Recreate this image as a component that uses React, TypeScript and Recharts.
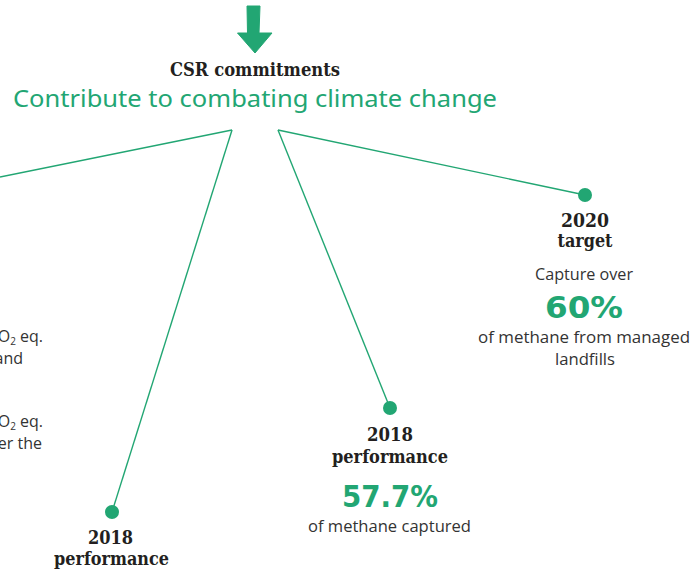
import React from 'react';
import { ComposedChart, XAxis, YAxis, Scatter } from 'recharts';

const W = 692;
const H = 571;
const GREEN = '#22a673';
const DARK = '#231f20';
const BODY = '#333333';

// connector lines: hub point -> node point
const hubX = [232, 232, 278, 278];
const hubY = [130, 130, 130, 130];
const nodeX = [0, 112, 390, 585];
const nodeY = [177, 512, 408, 195];
const nodeHasDot = [false, true, true, true];

// text blocks
const labelText = [
  'CSR commitments',
  'Contribute to combating climate change',
  '2020',
  'target',
  'Capture over',
  '60%',
  'of methane from managed',
  'landfills',
  '2018',
  'performance',
  '57.7%',
  'of methane captured',
  '2018',
  'performance',
];
const labelKind = [
  'heading', 'title',
  'heading', 'heading', 'body', 'big', 'body', 'body',
  'heading', 'heading', 'big', 'body',
  'heading', 'heading',
];
const labelX = [255, 255, 585, 585, 584, 584, 584, 585, 390, 390, 390, 389.5, 110.5, 111.5];
const labelY = [76, 107, 227, 247, 280, 318, 343, 365, 441, 463, 507, 532, 544, 565];
const labelWidth = [170, 484, 48, 55, 98, 78, 212, 60, 46, 116, 96, 163, 45, 115];

// partially visible text at the left edge
const edgeText = ['CO|2| eq.', 'and', 'CO|2| eq.', 'over the'];
const edgeRight = [43, 23, 43, 42];
const edgeY = [342, 364, 427, 449];

const arrowX = [253.5];
const arrowY = [6];

const styles: Record<string, any> = {
  heading: { fontFamily: '"DejaVu Serif", serif', fontWeight: 700, fontSize: 18, fill: DARK },
  title: { fontFamily: '"Noto Sans", sans-serif', fontWeight: 400, fontSize: 24, fill: GREEN },
  body: { fontFamily: '"Open Sans", sans-serif', fontWeight: 400, fontSize: 16, fill: BODY },
  big: { fontFamily: '"DejaVu Sans", sans-serif', fontWeight: 700, fontSize: 31, fill: GREEN },
};

const connectors = hubX.map((hx, i) => [
  { x: hx, y: hubY[i], end: false, dot: false },
  { x: nodeX[i], y: nodeY[i], end: true, dot: nodeHasDot[i] },
]);

const labels = labelText.map((t, i) => ({
  x: labelX[i],
  y: labelY[i],
  text: t,
  kind: labelKind[i],
  width: labelWidth[i],
}));

const edges = edgeText.map((t, i) => ({ x: edgeRight[i], y: edgeY[i], text: t }));
const arrow = arrowX.map((x, i) => ({ x, y: arrowY[i] }));

const DotShape = (props: any) => {
  const { cx, cy, payload } = props;
  if (!payload || !payload.dot) return <g />;
  return <circle cx={cx} cy={cy} r={7} fill={GREEN} />;
};

const LabelShape = (props: any) => {
  const { cx, cy, payload } = props;
  const st = styles[payload.kind];
  return (
    <text
      x={cx}
      y={cy}
      textAnchor="middle"
      textLength={payload.width}
      lengthAdjust="spacingAndGlyphs"
      style={st}
    >
      {payload.text}
    </text>
  );
};

const EdgeShape = (props: any) => {
  const { cx, cy, payload } = props;
  const parts = String(payload.text).split('|');
  return (
    <text x={cx} y={cy} textAnchor="end" style={styles.body}>
      {parts.length === 3 ? (
        <>
          <tspan>{parts[0]}</tspan>
          <tspan fontSize={10} dy={3}>{parts[1]}</tspan>
          <tspan dy={-3}>{parts[2]}</tspan>
        </>
      ) : (
        parts[0]
      )}
    </text>
  );
};

const ArrowShape = (props: any) => {
  const { cx, cy } = props;
  const pts = [
    [cx - 6.5, cy],
    [cx + 6.5, cy],
    [cx + 5.5, cy + 27],
    [cx + 18.5, cy + 27],
    [cx + 1.5, cy + 47],
    [cx - 16, cy + 27],
    [cx - 6, cy + 27],
  ]
    .map((p) => p.join(','))
    .join(' ');
  return <polygon points={pts} fill={GREEN} strokeLinejoin="round" stroke={GREEN} strokeWidth={1} />;
};

export default function App() {
  return (
    <div style={{ position: 'absolute', left: 0, top: 0, width: W, height: H, background: '#fff' }}>
      <ComposedChart width={W} height={H} margin={{ top: 0, right: 0, bottom: 0, left: 0 }}>
        <XAxis type="number" dataKey="x" domain={[0, W]} hide allowDataOverflow />
        <YAxis type="number" dataKey="y" domain={[0, H]} reversed hide allowDataOverflow />
        {connectors.map((d, i) => (
          <Scatter
            key={'c' + i}
            data={d}
            line={{ stroke: GREEN, strokeWidth: 1.4 }}
            lineType="joint"
            shape={DotShape}
            isAnimationActive={false}
          />
        ))}
        <Scatter data={arrow} shape={ArrowShape} isAnimationActive={false} />
        <Scatter data={labels} shape={LabelShape} isAnimationActive={false} />
        <Scatter data={edges} shape={EdgeShape} isAnimationActive={false} />
      </ComposedChart>
    </div>
  );
}
